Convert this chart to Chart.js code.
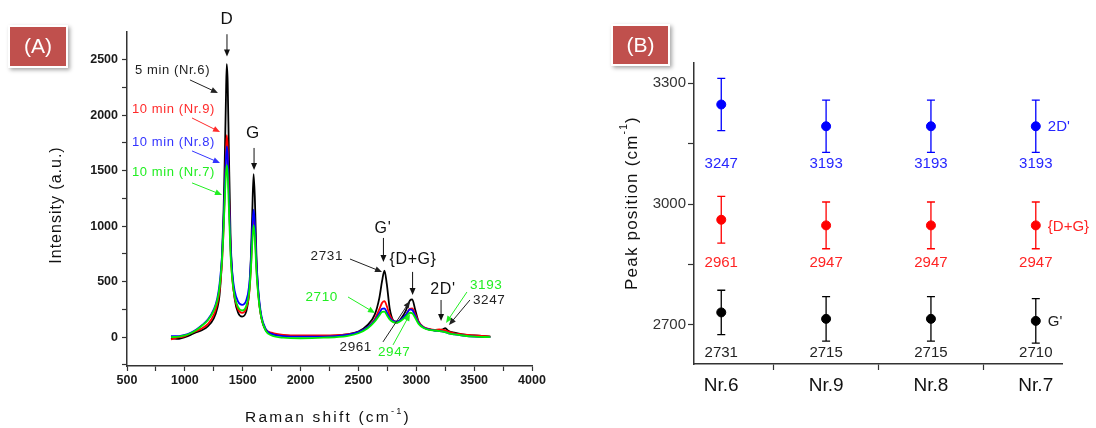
<!DOCTYPE html>
<html>
<head>
<meta charset="utf-8">
<script src="https://cdn.jsdelivr.net/npm/chart.js@4"></script>
<style>
  html, body { margin: 0; padding: 0; background: #fff; }
  #wrap { position: relative; width: 1096px; height: 428px; overflow: hidden; }
  #chartA { position: absolute; left: 0; top: 0; }
  #chartB { position: absolute; left: 560px; top: 0; }
</style>
</head>
<body>
<div id="wrap">
  <canvas id="chartA" width="560" height="428"></canvas>
  <canvas id="chartB" width="536" height="428"></canvas>
</div>
<script>
// ---- data panel (A): Raman spectra, intensity (a.u.)
const ramanShift = [880, 950, 1000, 1050, 1100, 1150, 1200, 1250, 1280, 1300, 1320, 1335, 1345, 1355, 1362, 1370, 1380, 1395, 1410, 1430,
  1460, 1495, 1530, 1555, 1570, 1582, 1594, 1605, 1618, 1635, 1660, 1700, 1750, 1850, 2000, 2200, 2400, 2500, 2580, 2640,
  2680, 2705, 2725, 2745, 2770, 2800, 2830, 2870, 2910, 2945, 2965, 2990, 3020, 3060, 3110, 3160, 3200, 3230, 3250, 3280,
  3330, 3400, 3500, 3640];
const nr6 = [-10, -15, 0, 20, 45, 65, 100, 170, 260, 380, 700, 1150, 1600, 2150, 2460, 2300, 1700, 900, 560, 350,
  220, 185, 230, 400, 700, 1100, 1470, 1250, 750, 400, 180, 60, 30, 15, 10, 10, 25, 50, 110, 200,
  350, 510, 600, 480, 260, 150, 130, 170, 240, 330, 340, 250, 140, 90, 70, 60, 65, 70, 80, 55,
  40, 25, 15, 5];
const nr9 = [-20, 0, 10, 35, 55, 80, 120, 200, 300, 420, 650, 980, 1300, 1650, 1820, 1720, 1350, 780, 520, 360,
  250, 218, 260, 380, 600, 880, 1100, 980, 640, 380, 180, 70, 40, 20, 15, 15, 25, 45, 90, 160,
  250, 310, 325, 280, 200, 150, 140, 160, 200, 255, 260, 210, 140, 95, 75, 65, 70, 65, 60, 50,
  35, 25, 15, 5];
const nr8 = [10, 10, 20, 40, 70, 110, 160, 250, 350, 480, 720, 1050, 1350, 1600, 1720, 1640, 1300, 820, 580, 420,
  320, 290, 330, 460, 680, 950, 1150, 1020, 680, 420, 200, 70, 30, 10, 5, 5, 20, 45, 90, 150,
  215, 255, 260, 225, 175, 145, 140, 160, 200, 250, 245, 195, 130, 90, 70, 60, 55, 50, 45, 35,
  25, 15, 5, 0];
const nr7 = [0, 5, 15, 35, 65, 105, 155, 240, 330, 450, 680, 980, 1250, 1470, 1550, 1480, 1180, 740, 520, 370,
  270, 240, 280, 400, 600, 840, 1010, 900, 600, 370, 180, 55, 15, -5, -10, -5, 10, 35, 80, 140,
  195, 228, 230, 200, 160, 135, 130, 150, 185, 220, 215, 175, 120, 85, 65, 60, 55, 50, 45, 35,
  25, 15, 5, 0];
const xTicksA = [500, 750, 1000, 1250, 1500, 1750, 2000, 2250, 2500, 2750, 3000, 3250, 3500, 3750, 4000];
const yTicksA = [-250, 0, 250, 500, 750, 1000, 1250, 1500, 1750, 2000, 2250, 2500];

// ---- data panel (B): peak positions (cm-1)
const samples = ['Nr.6', 'Nr.9', 'Nr.8', 'Nr.7'];
const twoDPrime = [3247, 3193, 3193, 3193];
const dPlusG = [2961, 2947, 2947, 2947];
const gPrime = [2731, 2715, 2715, 2710];
const twoDPrimeErr = [65, 65, 65, 65];
const dPlusGErr = [58, 58, 58, 58];
const gPrimeErr = [55, 55, 55, 55];
const yTicksB = [2700, 2850, 3000, 3150, 3300];
const xTicksB = [0, 0.5, 1, 1.5, 2, 2.5, 3];

const FONT = '"Liberation Sans", Arial, sans-serif';

function arrow(ctx, x1, y1, x2, y2, color) {
  const a = Math.atan2(y2 - y1, x2 - x1), h = 7, w = 3;
  ctx.strokeStyle = color; ctx.fillStyle = color; ctx.lineWidth = 1;
  ctx.beginPath();
  ctx.moveTo(x1, y1);
  ctx.lineTo(x2 - h * 0.8 * Math.cos(a), y2 - h * 0.8 * Math.sin(a));
  ctx.stroke();
  ctx.beginPath();
  ctx.moveTo(x2, y2);
  ctx.lineTo(x2 - h * Math.cos(a) + w * Math.sin(a), y2 - h * Math.sin(a) - w * Math.cos(a));
  ctx.lineTo(x2 - h * Math.cos(a) - w * Math.sin(a), y2 - h * Math.sin(a) + w * Math.cos(a));
  ctx.closePath();
  ctx.fill();
}

function badge(ctx, x, y, w, h, text) {
  ctx.save();
  ctx.shadowColor = 'rgba(0,0,0,0.35)';
  ctx.shadowBlur = 4; ctx.shadowOffsetX = 2; ctx.shadowOffsetY = 2;
  ctx.fillStyle = '#fff';
  ctx.fillRect(x - 2, y - 2, w + 4, h + 4);
  ctx.restore();
  ctx.fillStyle = '#c0504d';
  ctx.fillRect(x, y, w, h);
  ctx.fillStyle = '#fff';
  ctx.font = '21px ' + FONT;
  ctx.textAlign = 'center'; ctx.textBaseline = 'middle';
  ctx.fillText(text, x + w / 2, y + h / 2 + 1);
}

// text with a superscript part, optionally rotated
function supText(ctx, parts, cx, cy, size, rotate, spacing) {
  ctx.save();
  ctx.translate(cx, cy);
  if (rotate) ctx.rotate(-Math.PI / 2);
  ctx.letterSpacing = spacing + 'px';
  ctx.fillStyle = '#111';
  ctx.textBaseline = 'middle';
  ctx.textAlign = 'left';
  let total = 0;
  parts.forEach(p => {
    ctx.font = (p.sup ? size * 0.6 : size) + 'px ' + FONT;
    p.w = ctx.measureText(p.t).width;
    total += p.w;
  });
  let x = -total / 2;
  parts.forEach(p => {
    ctx.font = (p.sup ? size * 0.6 : size) + 'px ' + FONT;
    ctx.fillText(p.t, x, p.sup ? -size * 0.45 : 0);
    x += p.w;
  });
  ctx.restore();
}

// annotations of panel A, in data units
const notesA = [
  { t: 'D', x: 1364, y: 2860, al: 'center', c: '#111', s: 17, ar: [1364, 2730, 1364, 2530] },
  { t: '5 min (Nr.6)', x: 569, y: 2408, al: 'left', c: '#222', s: 13, ar: [1044, 2318, 1286, 2201] },
  { t: '10 min (Nr.9)', x: 543, y: 2048, al: 'left', c: '#ff2a2a', s: 13, ar: [1062, 1975, 1304, 1849] },
  { t: '10 min (Nr.8)', x: 543, y: 1759, al: 'left', c: '#3333ff', s: 13, ar: [1062, 1678, 1304, 1570] },
  { t: '10 min (Nr.7)', x: 543, y: 1489, al: 'left', c: '#22ee22', s: 13, ar: [1062, 1390, 1321, 1282] },
  { t: 'G', x: 1589, y: 1840, al: 'center', c: '#111', s: 17, ar: [1598, 1705, 1598, 1507] },
  { t: "G'", x: 2712, y: 975, al: 'center', c: '#111', s: 16, ar: [2716, 894, 2716, 678] },
  { t: '{D+G}', x: 2972, y: 696, al: 'center', c: '#111', s: 16, ar: [2968, 588, 2968, 380] },
  { t: '2731', x: 2367, y: 731, al: 'right', c: '#222', s: 13.5, ar: [2427, 704, 2704, 588] },
  { t: '2710', x: 2323, y: 362, al: 'right', c: '#22ee22', s: 13.5, ar: [2410, 362, 2643, 218] },
  { t: '2961', x: 2617, y: -90, al: 'right', c: '#222', s: 13.5, ar: [2712, -43, 2946, 326] },
  { t: '2947', x: 2669, y: -133, al: 'left', c: '#22ee22', s: 13.5, ar: [2799, -70, 2946, 209] },
  { t: "2D'", x: 3231, y: 425, al: 'center', c: '#111', s: 16, ar: [3214, 335, 3214, 146] },
  { t: '3193', x: 3464, y: 471, al: 'left', c: '#22ee22', s: 13.5, ar: [3438, 407, 3257, 128] },
  { t: '3247', x: 3490, y: 335, al: 'left', c: '#222', s: 13.5, ar: [3464, 335, 3283, 110] }
];

const annotA = {
  id: 'annotA',
  afterDraw(chart) {
    const ctx = chart.ctx, xs = chart.scales.x, ys = chart.scales.y;
    ctx.save();
    notesA.forEach(n => {
      const a = n.ar;
      arrow(ctx, xs.getPixelForValue(a[0]), ys.getPixelForValue(a[1]), xs.getPixelForValue(a[2]), ys.getPixelForValue(a[3]), n.c);
      ctx.font = n.s + 'px ' + FONT;
      ctx.letterSpacing = '0.6px';
      ctx.fillStyle = n.c;
      ctx.textAlign = n.al;
      ctx.textBaseline = 'middle';
      ctx.fillText(n.t, xs.getPixelForValue(n.x), ys.getPixelForValue(n.y));
    });
    ctx.letterSpacing = '0px';
    supText(ctx, [{ t: 'Intensity (a.u.)' }], 57, 205, 16, true, 1);
    supText(ctx, [{ t: 'Raman shift (cm' }, { t: '-1', sup: true }, { t: ')' }], 328, 418, 15.5, false, 2.2);
    badge(ctx, 10, 27, 56, 39, '(A)');
    ctx.restore();
  }
};

function spectrum(label, values, color) {
  return {
    label: label,
    data: ramanShift.map((x, i) => ({ x: x, y: values[i] })),
    borderColor: color,
    borderWidth: 1.8,
    pointRadius: 0,
    fill: false,
    cubicInterpolationMode: 'monotone'
  };
}

// Chart.js paints the first dataset last, so green ends up on top as in the picture
new Chart(document.getElementById('chartA'), {
  type: 'line',
  data: {
    datasets: [
      spectrum('10 min (Nr.7)', nr7, '#00ee00'),
      spectrum('10 min (Nr.8)', nr8, '#0000ff'),
      spectrum('10 min (Nr.9)', nr9, '#ff0000'),
      spectrum('5 min (Nr.6)', nr6, '#000000')
    ]
  },
  options: {
    responsive: false,
    animation: false,
    events: [],
    layout: { padding: { left: 0, right: 28, top: 32, bottom: 0 } },
    plugins: { legend: { display: false }, tooltip: { enabled: false } },
    scales: {
      x: {
        type: 'linear', min: 500, max: 4000,
        afterBuildTicks: s => { s.ticks = xTicksA.map(v => ({ value: v })); },
        afterFit: s => { s.height = 62; },
        border: { color: '#333', width: 1.5 },
        grid: { drawOnChartArea: false, tickLength: 5, tickColor: '#333', tickWidth: 1.2 },
        ticks: {
          autoSkip: false, maxRotation: 0, padding: 2, color: '#1a1a1a',
          font: { family: FONT, size: 12.5, weight: 'bold' },
          callback: v => (v % 500 === 0 ? String(v) : '')
        }
      },
      y: {
        type: 'linear', min: -260, max: 2750,
        afterBuildTicks: s => { s.ticks = yTicksA.map(v => ({ value: v })); },
        afterFit: s => { s.width = 127; },
        border: { color: '#333', width: 1.5 },
        grid: { drawOnChartArea: false, tickLength: 5, tickColor: '#333', tickWidth: 1.2 },
        ticks: {
          padding: 4, color: '#1a1a1a',
          font: { family: FONT, size: 12.5, weight: 'bold' },
          callback: v => (v % 500 === 0 ? String(v) : '')
        }
      }
    }
  },
  plugins: [annotA]
});

// ---- panel (B)
const seriesB = [
  { name: "2D'", values: twoDPrime, err: twoDPrimeErr, color: '#0000ff', text: '#2626ff' },
  { name: '{D+G}', values: dPlusG, err: dPlusGErr, color: '#ff0000', text: '#ff2424' },
  { name: "G'", values: gPrime, err: gPrimeErr, color: '#000000', text: '#222' }
];
// fixed height (in cm-1) of the row of value labels under each series
const valueRowB = [3100, 2855, 2630];

const annotB = {
  id: 'annotB',
  beforeDatasetsDraw(chart) {
    const ctx = chart.ctx, xs = chart.scales.x, ys = chart.scales.y;
    ctx.save();
    ctx.lineWidth = 1.3;
    seriesB.forEach(s => {
      ctx.strokeStyle = s.color;
      s.values.forEach((v, i) => {
        const x = xs.getPixelForValue(i);
        const yt = ys.getPixelForValue(v + s.err[i]), yb = ys.getPixelForValue(v - s.err[i]);
        ctx.beginPath();
        ctx.moveTo(x, yt); ctx.lineTo(x, yb);
        ctx.moveTo(x - 4, yt); ctx.lineTo(x + 4, yt);
        ctx.moveTo(x - 4, yb); ctx.lineTo(x + 4, yb);
        ctx.stroke();
      });
    });
    ctx.restore();
  },
  afterDraw(chart) {
    const ctx = chart.ctx, xs = chart.scales.x, ys = chart.scales.y;
    ctx.save();
    ctx.textBaseline = 'middle';
    seriesB.forEach((s, k) => {
      ctx.fillStyle = s.text;
      ctx.font = '15px ' + FONT;
      ctx.textAlign = 'center';
      s.values.forEach((v, i) => {
        ctx.fillText(String(v), xs.getPixelForValue(i), ys.getPixelForValue(valueRowB[k]));
      });
      const last = s.values.length - 1;
      ctx.textAlign = 'left';
      ctx.fillText(s.name, xs.getPixelForValue(last) + 12, ys.getPixelForValue(s.values[last]) + 1);
    });
    supText(ctx, [{ t: 'Peak position (cm' }, { t: '-1', sup: true }, { t: ')' }], 72, 203, 17, true, 1.2);
    badge(ctx, 53, 26, 55, 38, '(B)');
    ctx.restore();
  }
};

new Chart(document.getElementById('chartB'), {
  type: 'scatter',
  data: {
    datasets: seriesB.map(s => ({
      label: s.name,
      data: s.values.map((v, i) => ({ x: i, y: v })),
      pointRadius: 4.5,
      pointBackgroundColor: s.color,
      pointBorderColor: s.color,
      showLine: false
    }))
  },
  options: {
    responsive: false,
    animation: false,
    events: [],
    layout: { padding: { left: 0, right: 34, top: 63, bottom: 0 } },
    plugins: { legend: { display: false }, tooltip: { enabled: false } },
    scales: {
      x: {
        type: 'linear', min: -0.26, max: 3.25,
        afterBuildTicks: s => { s.ticks = xTicksB.map(v => ({ value: v })); },
        afterFit: s => { s.height = 64; },
        border: { color: '#333', width: 1.5 },
        grid: {
          drawOnChartArea: false, tickLength: 6, tickWidth: 1.2,
          tickColor: c => (c.tick && Number.isInteger(c.tick.value) ? 'rgba(0,0,0,0)' : '#333')
        },
        ticks: {
          autoSkip: false, maxRotation: 0, padding: 4, color: '#111',
          font: { family: FONT, size: 19 },
          callback: v => (Number.isInteger(v) ? samples[v] : '')
        }
      },
      y: {
        type: 'linear', min: 2603, max: 3350,
        afterBuildTicks: s => { s.ticks = yTicksB.map(v => ({ value: v })); },
        afterFit: s => { s.width = 134; },
        border: { color: '#333', width: 1.5 },
        grid: { drawOnChartArea: false, tickLength: 6, tickColor: '#333', tickWidth: 1.2 },
        ticks: {
          padding: 2, color: '#333',
          font: { family: FONT, size: 15 },
          callback: v => (v % 300 === 0 ? String(v) : '')
        }
      }
    }
  },
  plugins: [annotB]
});
</script>
</body>
</html>
